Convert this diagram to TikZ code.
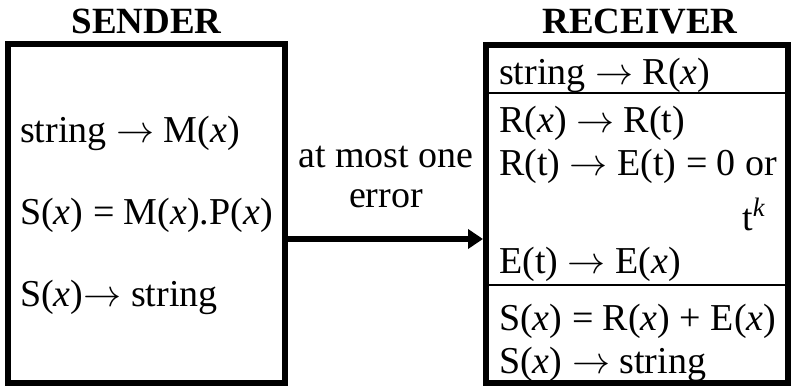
\RequirePackage{fix-cm}
\documentclass[tikz,border=0pt]{standalone}
\usepackage{fontspec}
\setmainfont{Liberation Serif}
\usetikzlibrary{arrows.meta}
\tikzset{
  box/.style={draw, line width=6pt, inner sep=0pt, rectangle},
  txt/.style={anchor=base west, inner sep=0pt, font=\fontsize{38}{40}\selectfont},
  ctxt/.style={anchor=base, inner sep=0pt, font=\fontsize{38}{40}\selectfont},
  title/.style={anchor=base, inner sep=0pt, font=\fontsize{37}{40}\selectfont\bfseries},
  sep/.style={line width=2pt},
  link/.style={line width=6pt, -{Triangle[length=15pt,width=19pt]}}
}
\newcommand{\ix}{\textit{x}}
\newcommand{\ar}{$\rightarrow$}
\begin{document}
\begin{tikzpicture}[x=1pt,y=-1pt]
\useasboundingbox (0,0) rectangle (792,386);
\node[box, minimum width=277pt, minimum height=339pt] (sender) at (146.5,213.5) {};
\node[box, minimum width=302pt, minimum height=338pt] (receiver) at (637,214) {};
\node[title] (st) at (146.5,33) {SENDER};
\node[title] (rt) at (640,33) {RECEIVER};
% sender lines
\node[txt] (s1) at (20,142) {string \ar{} M(\ix)};
\node[txt] (s2) at (20,224) {S(\ix) = M(\ix).P(\ix)};
\node[txt] (s3) at (20,306) {S(\ix)\ar{} string};
% receiver lines
\coordinate (l1) at (0,93);
\coordinate (l2) at (0,285);
\draw[sep] (receiver.west |- l1) -- (receiver.east |- l1);
\draw[sep] (receiver.west |- l2) -- (receiver.east |- l2);
\node[txt] (r1) at (499,84) {string \ar{} R(\ix)};
\node[txt] (r2) at (499,132) {R(\ix) \ar{} R(t)};
\node[txt] (r3) at (499,175) {R(t) \ar{} E(t) = 0 or};
\node[txt] (r4) at (742,230) {t\textsuperscript{\textit{k}}};
\node[txt] (r5) at (499,273) {E(t) \ar{} E(\ix)};
\node[txt] (r6) at (499,330) {S(\ix) = R(\ix) + E(\ix)};
\node[txt] (r7) at (499,373) {S(\ix) \ar{} string};
% middle
\node[ctxt] (m1) at (386,167) {at most one};
\node[ctxt] (m2) at (386,207) {error};
\coordinate (ay) at (0,239);
\draw[link] (sender.east |- ay) -- (receiver.west |- ay);
\end{tikzpicture}
\end{document}
